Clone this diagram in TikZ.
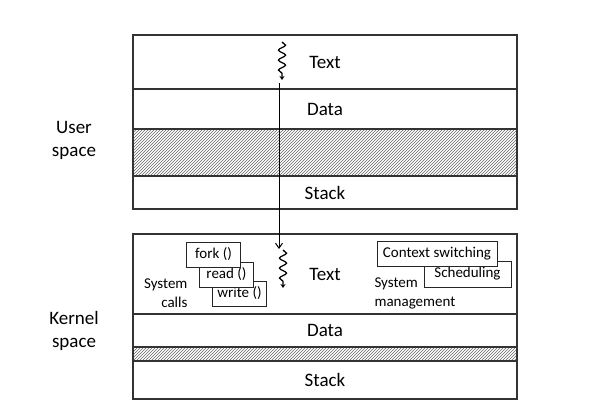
\documentclass[tikz,border=0pt]{standalone}
\usepackage{fontspec}
\setmainfont{Carlito}
\usetikzlibrary{patterns,decorations.pathmorphing,arrows.meta}

\def\boxwidth{384}
\def\midx{325}

\begin{document}
\begin{tikzpicture}[x=1pt,y=-1pt,
  seg/.style={draw=black!80,line width=1.2pt,minimum width=\boxwidth pt,inner sep=0pt,font=\fontsize{19}{23}\selectfont},
  hatched/.style={seg,pattern=north east lines,pattern color=black!60},
  callbox/.style={draw=black!85,line width=1pt,fill=white,inner sep=0pt,font=\fontsize{15}{19}\selectfont},
  small/.style={font=\fontsize{15}{19}\selectfont},
  side/.style={align=center,font=\fontsize{19}{23}\selectfont},
  thread/.style={decorate,decoration={snake,amplitude=3.5pt,segment length=10pt,post length=4pt},line width=1.3pt,-{Stealth[length=4pt,width=5pt]}}]%
\useasboundingbox (0,0) rectangle (599,416);
  % Memory segments of both spaces
  \foreach \name/\top/\bot/\lbl in {%
      utext/35/89/Text,%
      udata/89/129/Data,%
      ustack/176/209/Stack,%
      ktext/234/314/Text,%
      kdata/314/347/Data,%
      kstack/361/399/Stack%
    }{%
      \node[seg,minimum height={(\bot-\top)*1pt}] (\name) at (\midx,{(\top+\bot)/2}) {\lbl};%
    };%
  \node[hatched,minimum height=47pt] (uheap) at (\midx,152.5) {};
  \node[hatched,minimum height=14pt] (kheap) at (\midx,354) {};
  % Threads and the jump into the kernel
  \coordinate (uthreadtop) at (282,42);
  \coordinate (uthreadend) at (282,80);
  \coordinate (kthreadtop) at (283,250);
  \coordinate (kthreadend) at (283,288);
  \coordinate (trapstart) at (279,83);
  \coordinate (trapend) at (279,249);
  \draw[thread] (uthreadtop) -- (uthreadend);
  \draw[thread] (kthreadtop) -- (kthreadend);
  \draw[line width=1pt,-{Straight Barb[length=5pt,width=7pt]}] (trapstart) -- (trapend);
  % System calls, drawn back to front
  \node[callbox,minimum width=54pt,minimum height=25pt] (write) at (239.5,293.5) {write ()};
  \node[callbox,minimum width=54pt,minimum height=25pt] (read) at (226.5,274.5) {read ()};
  \node[callbox,minimum width=54pt,minimum height=25pt] (fork) at (213.5,254.5) {fork ()};
  \node[small,align=right,anchor=east] (calls) at (191,293) {System\\calls};
  % System management
  \node[callbox,minimum width=87pt,minimum height=26pt] (sched) at (467.5,274) {Scheduling};
  \node[callbox,minimum width=120pt,minimum height=25pt] (ctx) at (437,253.5) {Context switching};
  \node[small,align=left,anchor=west] (mgmt) at (371,293) {System\\management};
  % Side labels
  \node[side] (user) at (74,140) {User\\space};
  \node[side] (kernel) at (74,331) {Kernel\\space};
\end{tikzpicture}
\end{document}
